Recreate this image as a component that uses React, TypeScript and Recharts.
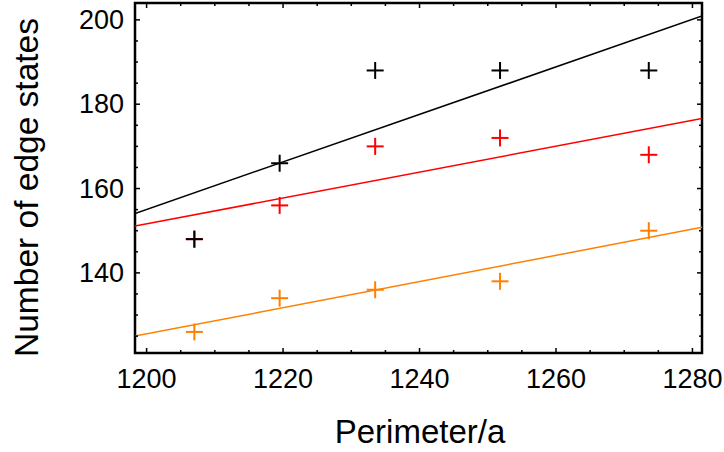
import { ComposedChart, Scatter, XAxis, YAxis, ReferenceArea } from 'recharts';

const perimeter = [1207, 1219.5, 1233.5, 1251.8, 1273.6];
const blackStates = [148, 166, 188, 188, 188];
const redStates = [148, 156, 170, 172, 168];
const orangeStates = [126, 134, 136, 138, 150];

// fitted lines, read at the frame edges
const fitX = [1198.3, 1281.4];
const blackFit = [154.1, 200.9];
const redFit = [151.1, 176.6];
const orangeFit = [125.0, 150.8];

const xTicks = [1200, 1205, 1210, 1215, 1220, 1225, 1230, 1235, 1240, 1245, 1250, 1255, 1260, 1265, 1270, 1275, 1280];
const yTicks = [125, 130, 135, 140, 145, 150, 155, 160, 165, 170, 175, 180, 185, 190, 195, 200];

const FONT = '"Liberation Sans", Arial, sans-serif';
const TOP = 3;
const BOTTOM = 353;
const LEFT = 135;
const RIGHT = 702;

const pts = (ys: number[]) => perimeter.map((x, i) => ({ x, y: ys[i] }));
const fit = (ys: number[]) => fitX.map((x, i) => ({ x, y: ys[i] }));

const Cross = (color: string) => (p: any) => {
  const { cx, cy } = p;
  const h = 8.5;
  return (
    <g stroke={color} strokeWidth={2}>
      <line x1={cx - h} y1={cy} x2={cx + h} y2={cy} />
      <line x1={cx} y1={cy - h} x2={cx} y2={cy + h} />
    </g>
  );
};

const XTick = (p: any) => {
  const v = p.payload.value;
  const major = v % 20 === 0;
  const len = major ? 5 : 3;
  return (
    <g>
      <line x1={p.x} y1={BOTTOM} x2={p.x} y2={BOTTOM - len} stroke="#000" strokeWidth={1.5} />
      <line x1={p.x} y1={TOP} x2={p.x} y2={TOP + len} stroke="#000" strokeWidth={1.5} />
      {major && (
        <text x={p.x} y={BOTTOM + 35} textAnchor="middle" fontSize={27} fontFamily={FONT} fill="#000">{v}</text>
      )}
    </g>
  );
};

const YTick = (p: any) => {
  const v = p.payload.value;
  const major = v % 20 === 0;
  const len = major ? 5 : 3;
  return (
    <g>
      <line x1={LEFT} y1={p.y} x2={LEFT + len} y2={p.y} stroke="#000" strokeWidth={1.5} />
      <line x1={RIGHT} y1={p.y} x2={RIGHT - len} y2={p.y} stroke="#000" strokeWidth={1.5} />
      {major && (
        <text x={LEFT - 11} y={p.y + 9} textAnchor="end" fontSize={27} fontFamily={FONT} fill="#000">{v}</text>
      )}
    </g>
  );
};

const Nothing = () => <g />;

export default function App() {
  return (
    <div style={{ position: 'absolute', left: 0, top: 0, background: '#fff' }}>
      <ComposedChart width={724} height={452} margin={{ top: TOP, right: 724 - RIGHT, bottom: 0, left: 0 }}>
        <XAxis
          type="number"
          dataKey="x"
          domain={[1198.3, 1281.4]}
          ticks={xTicks}
          allowDataOverflow
          height={99}
          axisLine={false}
          tickLine={false}
          tickSize={0}
          tickMargin={0}
          interval={0}
          tick={XTick}
          label={{
            content: () => (
              <text x={420} y={443} textAnchor="middle" fontSize={33} fontFamily={FONT} fill="#000">Perimeter/a</text>
            ),
          }}
        />
        <YAxis
          type="number"
          dataKey="y"
          domain={[121, 204]}
          ticks={yTicks}
          allowDataOverflow
          width={LEFT}
          axisLine={false}
          tickLine={false}
          tickSize={0}
          tickMargin={0}
          interval={0}
          tick={YTick}
          label={{
            content: () => (
              <text x={38} y={187.5} transform="rotate(-90 38 187.5)" textAnchor="middle" fontSize={33.5} fontFamily={FONT} fill="#000">Number of edge states</text>
            ),
          }}
        />
        <Scatter data={fit(orangeFit)} line={{ stroke: '#ff8000', strokeWidth: 1.5 }} shape={Nothing} isAnimationActive={false} />
        <Scatter data={fit(redFit)} line={{ stroke: '#ff0000', strokeWidth: 1.5 }} shape={Nothing} isAnimationActive={false} />
        <Scatter data={fit(blackFit)} line={{ stroke: '#000000', strokeWidth: 1.5 }} shape={Nothing} isAnimationActive={false} />
        <Scatter data={pts(orangeStates)} shape={Cross('#ff8000')} isAnimationActive={false} />
        <Scatter data={pts(redStates)} shape={Cross('#ff0000')} isAnimationActive={false} />
        <Scatter data={pts(blackStates)} shape={Cross('#000000')} isAnimationActive={false} />
        <ReferenceArea x1={1198.3} x2={1281.4} y1={121} y2={204} fill="none" stroke="#000" strokeWidth={2.5} ifOverflow="visible" />
      </ComposedChart>
    </div>
  );
}
